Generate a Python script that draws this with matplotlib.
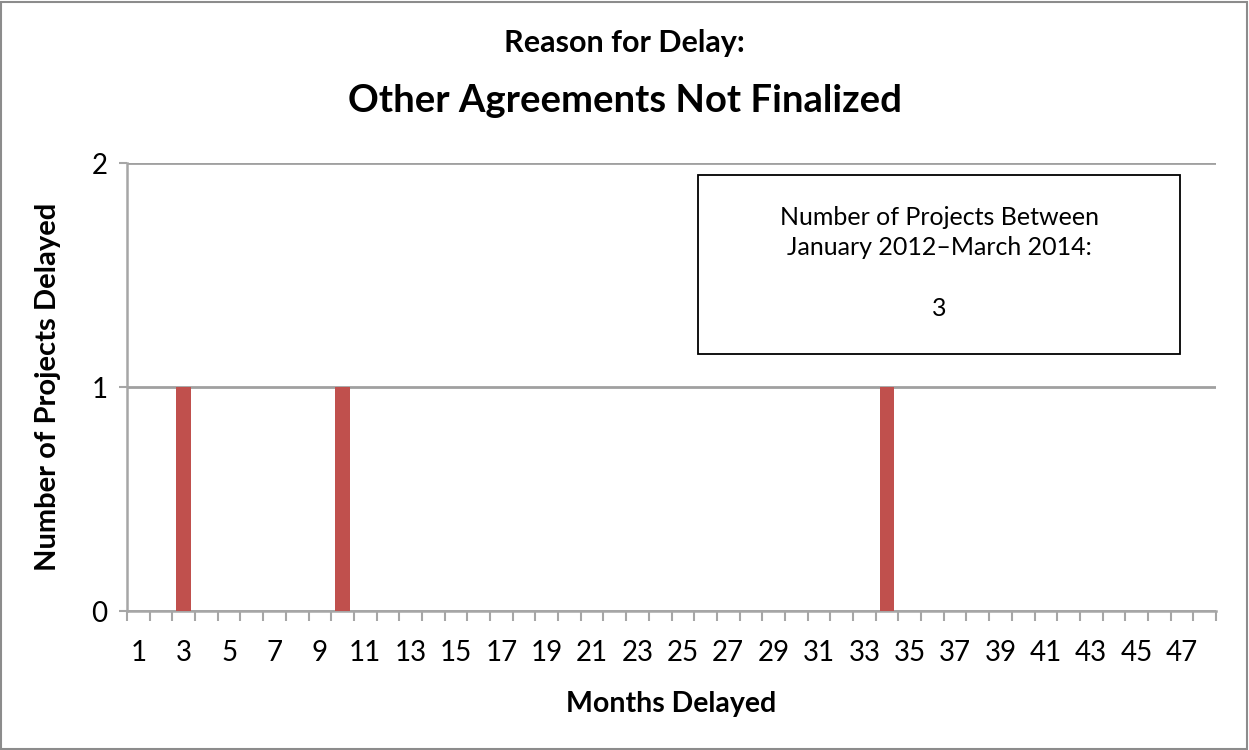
import numpy as np
import matplotlib.pyplot as plt
from matplotlib.patches import Rectangle

# data
months = list(range(1, 49))
delayed = {3: 1, 10: 1, 34: 1}
counts = [delayed.get(m, 0) for m in months]
tick_labels = [str(m) for m in months[::2]]
title_1 = "Reason for Delay:"
title_2 = "Other Agreements Not Finalized"
box_text = "Number of Projects Between\nJanuary 2012\u2013March 2014:\n\n" + str(sum(counts))

plt.rcParams['font.family'] = ['Lato', 'DejaVu Sans']

W, H = 1249, 750
fig = plt.figure(figsize=(W / 100, H / 100), dpi=100)
ax = fig.add_axes([127 / W, (H - 611) / H, (1216 - 127) / W, (611 - 163) / H])

ax.bar(months, counts, width=0.65, color='#C0504D', zorder=3)

ax.set_xlim(0.5, 48.5)
ax.set_ylim(0, 2)
ax.set_yticks([0, 1, 2])
ax.set_yticklabels(['0', '1', '2'], fontsize=20)
ax.set_xticks(months[::2])
ax.set_xticklabels(tick_labels, fontsize=20)
ax.set_xticks(np.arange(0.5, 49, 1), minor=True)
ax.tick_params(axis='x', which='major', length=0, pad=21)
ax.tick_params(axis='x', which='minor', length=7, width=1.5, color='#A6A6A6', direction='out')
ax.tick_params(axis='y', length=6, width=1.5, color='#A6A6A6', pad=8)

ax.yaxis.grid(True, color='#A0A0A0', linewidth=2, zorder=1)
ax.set_axisbelow(True)
for s in ['top', 'right']:
    ax.spines[s].set_visible(False)
for s in ['left', 'bottom']:
    ax.spines[s].set_color('#A6A6A6')
    ax.spines[s].set_linewidth(1.8)

ax.set_xlabel("Months Delayed", fontsize=20.5, fontweight='bold', labelpad=18)
ax.set_ylabel("Number of Projects Delayed", fontsize=21, fontweight='bold', labelpad=22)

fig.text(0.5, 1 - 43 / H, title_1, ha='center', va='center', fontsize=22, fontweight='bold')
fig.text(0.5, 1 - 101 / H, title_2, ha='center', va='center', fontsize=27.5, fontweight='bold')

# annotation box
bx0, by0, bx1, by1 = 698, 175, 1180, 354
fig.patches.append(Rectangle((bx0 / W, 1 - by1 / H), (bx1 - bx0) / W, (by1 - by0) / H,
                             transform=fig.transFigure, fill=True, facecolor='white',
                             edgecolor='black', linewidth=1.3, zorder=5))
fig.text((bx0 + bx1) / 2 / W, 1 - 263 / H, box_text, ha='center', va='center',
         fontsize=18, linespacing=1.4, zorder=6)

# outer frame
fig.patches.append(Rectangle((1 / W, 1 / H), (W - 3) / W, (H - 3) / H,
                             transform=fig.transFigure, fill=False,
                             edgecolor='#8C8C8C', linewidth=1.5))

fig.savefig('out.png', dpi=100)
